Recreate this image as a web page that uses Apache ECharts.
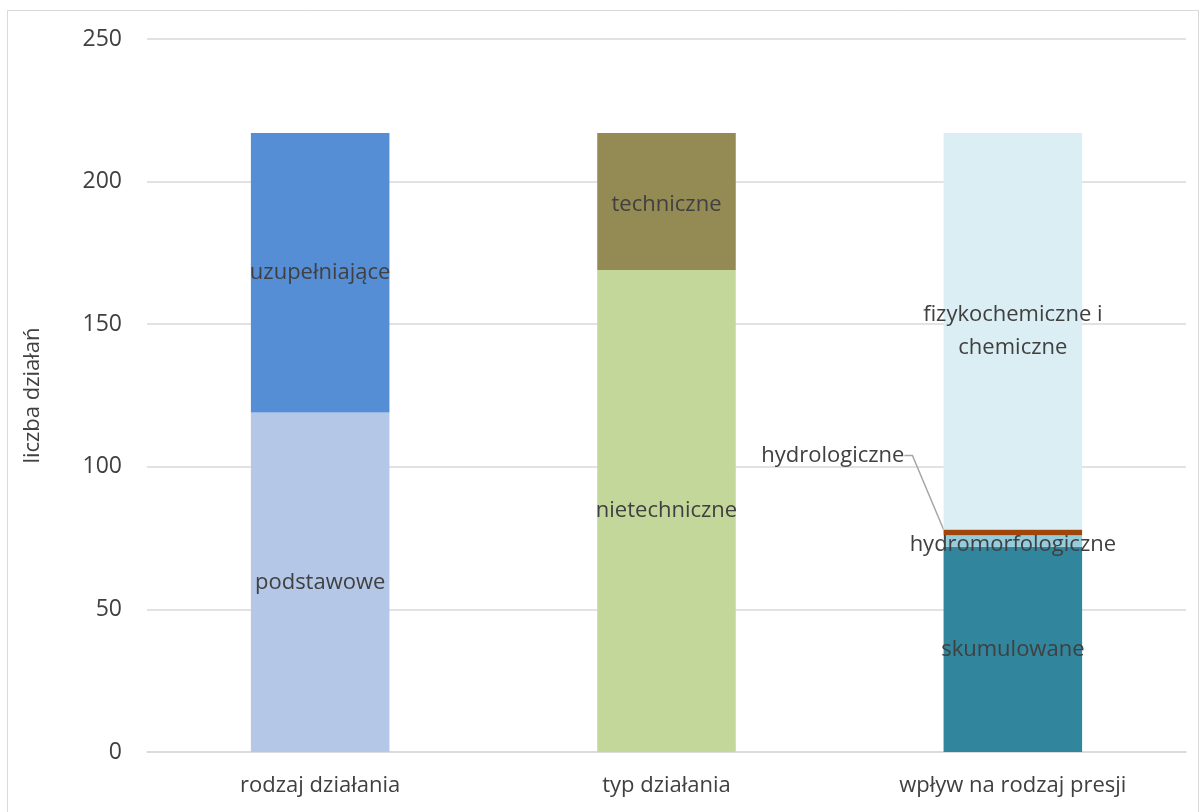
<!DOCTYPE html>
<html><head><meta charset="utf-8">
<script src="https://cdn.jsdelivr.net/npm/echarts@6/dist/echarts.min.js"></script>
<style>html,body{margin:0;padding:0;background:#fff}#c{width:1203px;height:812px}</style>
</head><body><div id="c"></div>
<script>
const categories = ['rodzaj działania', 'typ działania', 'wpływ na rodzaj presji'];
const yTicks = [0, 50, 100, 150, 200, 250];
const podstawowe = [119, null, null];
const uzupelniajace = [98, null, null];
const nietechniczne = [null, 169, null];
const techniczne = [null, 48, null];
const skumulowane = [null, null, 72];
const hydromorfologiczne = [null, null, 4];
const hydrologiczne = [null, null, 2];
const fizykochemiczne = [null, null, 139];

const FONT = 'Open Sans';
const TXT = '#404040';
const FS = 22;
function lbl(text, more) {
  return Object.assign({ show: true, position: 'inside', formatter: text, color: TXT,
    fontFamily: FONT, fontSize: FS, lineHeight: 33 }, more || {});
}
function mk(name, data, color, label, extra) {
  const s = {
    name: name, type: 'bar', stack: 'total', data: data, barWidth: '40%',
    itemStyle: { color: color },
    label: label,
    emphasis: { disabled: true }
  };
  return Object.assign(s, extra || {});
}
const chart = echarts.init(document.getElementById('c'));
chart.setOption({
  animation: false,
  backgroundColor: '#fff',
  graphic: [{ type: 'rect', shape: { x: 7.5, y: 10.5, width: 1191, height: 830 },
    style: { fill: 'none', stroke: '#d9d9d9', lineWidth: 1 }, silent: true }],
  grid: { left: 147, right: 17, top: 39, bottom: 60 },
  xAxis: { type: 'category', data: categories,
    axisLine: { lineStyle: { color: '#d9d9d9', width: 1.5 } }, axisTick: { show: false },
    axisLabel: { color: TXT, fontFamily: FONT, fontSize: FS, margin: 23 } },
  yAxis: { type: 'value', min: 0, max: 250, interval: 50,
    name: 'liczba działań', nameLocation: 'middle', nameGap: 103,
    nameTextStyle: { color: TXT, fontFamily: FONT, fontSize: FS },
    axisLine: { show: false }, axisTick: { show: false },
    axisLabel: { color: TXT, fontFamily: FONT, fontSize: 23, margin: 25,
      formatter: v => yTicks.includes(v) ? String(v) : '' },
    splitLine: { lineStyle: { color: '#d9d9d9', width: 1.5 } } },
  series: [
    mk('podstawowe', podstawowe, '#B4C7E7', lbl('podstawowe')),
    mk('uzupełniające', uzupelniajace, '#558ED5', lbl('uzupełniające')),
    mk('nietechniczne', nietechniczne, '#C4D79B', lbl('nietechniczne')),
    mk('techniczne', techniczne, '#948A54', lbl('techniczne', { offset: [0, 3] })),
    mk('skumulowane', skumulowane, '#31859C', lbl('skumulowane')),
    mk('hydromorfologiczne', hydromorfologiczne, '#93CDDD', lbl('hydromorfologiczne', { offset: [0, 4] })),
    mk('hydrologiczne', hydrologiczne, '#A0460A', lbl('hydrologiczne'), {
      labelLayout: { dx: -180, dy: -77 },
      labelLine: { show: true, length2: 8, lineStyle: { color: '#a6a6a6', width: 1.5 } }
    }),
    mk('fizykochemiczne i chemiczne', fizykochemiczne, '#DAEEF3', lbl('fizykochemiczne i\nchemiczne'))
  ]
});
</script></body></html>
